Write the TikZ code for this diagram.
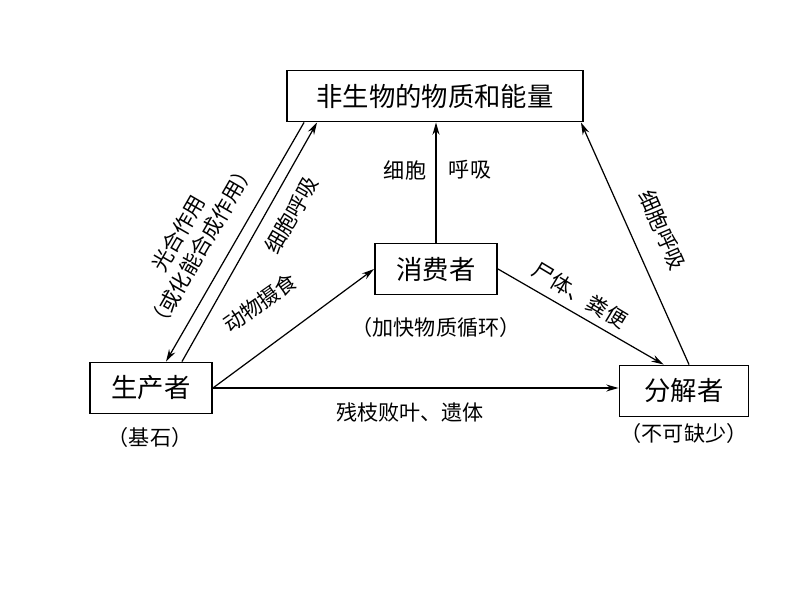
\documentclass[tikz,border=0pt]{standalone}
\usepackage{fontspec}
\setmainfont{Noto Sans CJK SC}
\usetikzlibrary{arrows.meta}
\tikzset{
  box/.style={draw, line width=1.1pt, minimum height=1.02cm, font=\fontsize{15}{17}\selectfont},
  lbl/.style={font=\fontsize{12}{15}\selectfont, align=center},
  flow/.style={line width=0.7pt, -{Stealth[length=7pt, width=4pt]}}
}
\begin{document}
\begin{tikzpicture}
    \useasboundingbox (0, 0) rectangle (16, 12);

    % boxes
    \node [box, minimum width=5.92cm] (env) at (8.7, 10.08) {非生物的物质和能量};
    \node [box, minimum width=2.44cm] (cons) at (8.72, 6.62) {消费者};
    \node [box, minimum width=2.44cm] (prod) at (3.02, 4.24) {生产者};
    \node [box, minimum width=2.58cm] (deco) at (13.68, 4.18) {分解者};

    % notes under boxes
    \node [lbl] (prodnote) at (3.0, 3.26) {（基石）};
    \node [lbl] (consnote) at (8.72, 5.46) {（加快物质循环）};
    \node [lbl] (deconote) at (13.68, 3.34) {（不可缺少）};

    % producer and environment
    \draw [flow] ([xshift=0.36cm]env.south west) -- ([xshift=0.3cm]prod.north);
    \draw [flow] ([xshift=0.62cm]prod.north) -- ([xshift=0.62cm]env.south west);
    \node [lbl, rotate=60] (photo) at (3.8, 7.2) {光合作用\\（或化能合成作用）};
    \node [lbl, rotate=60] (resp1) at (5.83, 7.7) {细胞呼吸};

    % feeding
    \draw [flow] (prod.east) -- (cons.west);
    \node [lbl, rotate=35] (feed) at (5.2, 5.95) {动物摄食};

    % consumer to environment
    \draw [flow] (cons.north) -- (cons.north |- env.south);
    \node [lbl] (resp2a) at (8.1, 8.6) {细胞};
    \node [lbl] (resp2b) at (9.4, 8.6) {呼吸};

    % consumer to decomposer
    \draw [flow] (cons.east) -- ([xshift=0.9cm]deco.north west);
    \node [lbl, rotate=-31] (waste) at (11.6, 6.1) {尸体、粪便};

    % producer to decomposer
    \draw [flow] (prod.east) -- (deco.west |- prod.east);
    \node [lbl] (litter) at (8.2, 3.76) {残枝败叶、遗体};

    % decomposer to environment
    \draw [flow] ([xshift=0.1cm]deco.north) -- ([xshift=-0.06cm]env.south east);
    \node [lbl, rotate=-66.6] (resp3) at (13.25, 7.4) {细胞呼吸};
\end{tikzpicture}
\end{document}
